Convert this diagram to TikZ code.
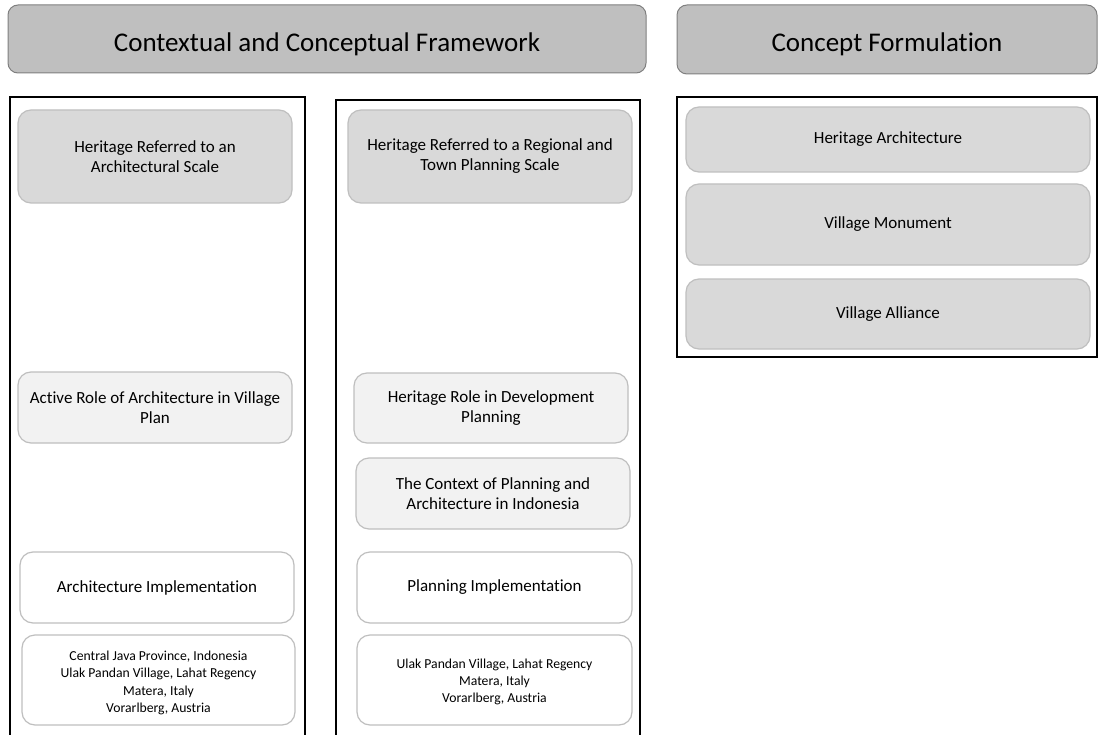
\documentclass[tikz,border=0pt]{standalone}
\usepackage{fontspec}
\setmainfont{Carlito}[Ligatures={NoCommon}]
\definecolor{hdrfill}{HTML}{BFBFBF}
\definecolor{hdrline}{HTML}{808080}
\definecolor{gboxfill}{HTML}{D9D9D9}
\definecolor{lboxfill}{HTML}{F2F2F2}
\definecolor{boxline}{HTML}{BFBFBF}
\tikzset{
  hdr/.style={draw=hdrline, fill=hdrfill, line width=1pt, rounded corners=10pt, inner sep=0pt},
  hdrtext/.style={font=\fontsize{27}{31}\selectfont, inner sep=0pt},
  ibox/.style={draw=boxline, line width=1.2pt, rounded corners=13pt, align=center, font=\fontsize{17}{20}\selectfont, inner sep=0pt},
  gbox/.style={ibox, fill=gboxfill},
  lbox/.style={ibox, fill=lboxfill},
  wbox/.style={ibox, fill=white},
  listbox/.style={ibox, fill=white, font=\fontsize{13.7}{17.3}\selectfont},
  frame/.style={draw=black, line width=1.5pt}
}
\newcommand{\rbox}[7]{% style, name, x1, y1, x2, y2, text
  \node[#1, minimum width={#5-#3}, minimum height={#6-#4}] (#2) at ({(#3+#5)/2},{(#4+#6)/2}) {#7};}
\begin{document}
\begin{tikzpicture}[x=1pt, y=-1pt]
\useasboundingbox (0,0) rectangle (1099,735);
\fill[white] (0,0) rectangle (1099,735);
% headers
\rbox{hdr}{h1}{8}{5}{646}{73}{}
\node[hdrtext] (h1t) at ([yshift=-5pt]h1.center) {Contextual and Conceptual Framework};
\rbox{hdr}{h2}{677}{5}{1097}{74}{}
\node[hdrtext] (h2t) at ([yshift=-5pt]h2.center) {Concept Formulation};
% frames
\draw[frame] (10,736) -- (10,97) -- (305,97) -- (305,736);
\draw[frame] (336,736) -- (336,100) -- (640,100) -- (640,736);
\draw[frame] (677,97) rectangle (1097,357);
% left column
\rbox{gbox}{a1}{18}{110}{292}{203}{Heritage Referred to an\\Architectural Scale}
\rbox{lbox}{a2}{18}{372}{292}{443}{Active Role of Architecture in Village\\Plan}
\rbox{wbox}{a3}{20}{552}{294}{623}{Architecture Implementation}
\rbox{listbox}{a4}{22}{635}{295}{725}{}
\node[listbox, draw=none, fill=none] (a4t) at ([yshift=-3pt]a4.center) {Central Java Province, Indonesia\\Ulak Pandan Village, Lahat Regency\\Matera, Italy\\Vorarlberg, Austria};
% middle column
\rbox{gbox}{b1}{348}{110}{632}{203}{Heritage Referred to a Regional and\\Town Planning Scale}
\rbox{lbox}{b2}{354}{373}{628}{443}{Heritage Role in Development\\Planning}
\rbox{lbox}{b3}{356}{458}{630}{529}{The Context of Planning and\\Architecture in Indonesia}
\rbox{wbox}{b4}{357}{552}{632}{623}{Planning Implementation}
\rbox{listbox}{b5}{357}{635}{632}{725}{}
\node[listbox, draw=none, fill=none] (b5t) at ([yshift=-2pt]b5.center) {Ulak Pandan Village, Lahat Regency\\Matera, Italy\\Vorarlberg, Austria};
% right column
\rbox{gbox}{c1}{686}{107}{1090}{172}{Heritage Architecture}
\rbox{gbox}{c2}{686}{184}{1090}{265}{Village Monument}
\rbox{gbox}{c3}{686}{279}{1090}{349}{Village Alliance}
\end{tikzpicture}
\end{document}
